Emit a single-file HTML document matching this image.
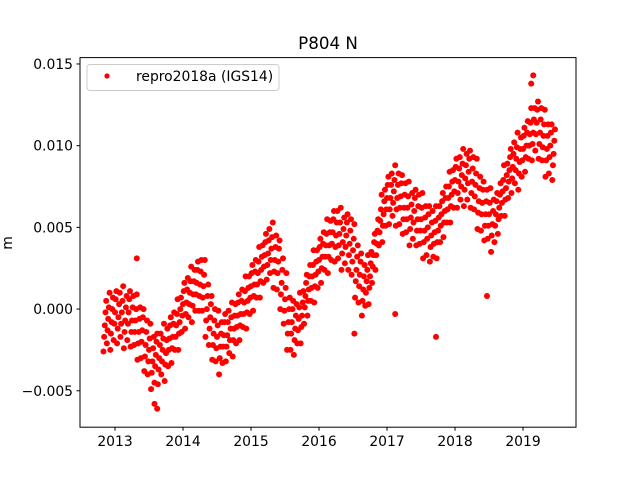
<!DOCTYPE html>
<html><head><meta charset="utf-8"><style>
body{margin:0;background:#fff}
svg{display:block;font-family:"DejaVu Sans","Liberation Sans",sans-serif}
</style></head><body>
<svg id="chart" width="640" height="480">
<rect width="640" height="480" fill="#fff"/>
<text x="328" y="49" font-size="16.7" text-anchor="middle">P804 N</text>
<text transform="translate(12,243) rotate(-90)" font-size="13.9" text-anchor="middle">m</text>
<g id="points"></g>
<rect x="80" y="57.6" width="496" height="369.6" fill="none" stroke="#000" stroke-width="1"/>
<g id="xticks"></g>
<g id="yticks"></g>
<g>
<rect x="87" y="64.5" width="192" height="26" rx="3" fill="#fff" fill-opacity="0.8" stroke="#ccc"/>
<circle cx="107" cy="76" r="2.6" fill="#f00"/>
<text x="136" y="81" font-size="13.9">repro2018a (IGS14)</text>
</g>
</svg>
<script>
const times = [2012.85,2012.90,2012.95,2013.00,2013.05,2013.10,2013.15,2013.20,2013.25,2013.30,2013.35,2013.40,2013.45,2013.50,2013.55,2013.60,2013.65,2013.70,2013.75,2013.80,2013.85,2013.90,2013.95,2014.00,2014.05,2014.10,2014.15,2014.20,2014.25,2014.30,2014.35,2014.40,2014.45,2014.50,2014.55,2014.60,2014.65,2014.70,2014.75,2014.80,2014.85,2014.90,2014.95,2015.00,2015.05,2015.10,2015.15,2015.20,2015.25,2015.30,2015.35,2015.40,2015.45,2015.50,2015.55,2015.60,2015.65,2015.70,2015.75,2015.80,2015.85,2015.90,2015.95,2016.00,2016.05,2016.10,2016.15,2016.20,2016.25,2016.30,2016.35,2016.40,2016.45,2016.50,2016.55,2016.60,2016.65,2016.70,2016.75,2016.80,2016.85,2016.90,2016.95,2017.00,2017.05,2017.10,2017.15,2017.20,2017.25,2017.30,2017.35,2017.40,2017.45,2017.50,2017.55,2017.60,2017.65,2017.70,2017.75,2017.80,2017.85,2017.90,2017.95,2018.00,2018.05,2018.10,2018.15,2018.20,2018.25,2018.30,2018.35,2018.40,2018.45,2018.50,2018.55,2018.60,2018.65,2018.70,2018.75,2018.80,2018.85,2018.90,2018.95,2019.00,2019.05,2019.10,2019.15,2019.20,2019.25,2019.30,2019.35,2019.40,2019.45];
// values in units of 1e-4 m, five daily samples per time bin
const values = [
[-26,-17,-10,-2,5],[-21,-13,-6,1,10],[-25,-15,-8,0,7],[-19,-9,-2,6,11],[-21,-12,-5,3,10],[-17,-9,-2,5,14],[-24,-14,-7,1,8],[-19,-9,-2,6,11],[-23,-14,-7,1,8],[-22,-14,-7,0,9],
[-31,-21,-14,-6,1],[-30,-20,-13,-5,0],[-38,-29,-22,-14,-7],[-40,-32,-25,-18,-9],[-49,-39,-32,-24,-17],[-45,-35,-28,-20,-15],[-46,-37,-30,-22,-15],[-40,-32,-25,-18,-9],[-44,-34,-27,-19,-12],[-35,-25,-18,-10,-5],
[-33,-24,-17,-9,-2],[-25,-17,-10,-3,6],[-25,-15,-8,0,7],[-14,-4,3,11,16],[-12,-3,4,12,19],[-5,3,10,17,26],[-8,2,9,17,24],[-1,9,16,24,29],[-1,8,15,23,30],[-1,7,14,21,30],
[-17,-7,0,8,15],[-22,-12,-5,3,8],[-31,-22,-15,-7,0],[-32,-24,-17,-10,-1],[-40,-30,-23,-15,-8],[-33,-23,-16,-8,-3],[-32,-23,-16,-8,-1],[-27,-19,-12,-5,4],[-29,-19,-12,-4,3],[-21,-11,-4,4,9],
[-19,-10,-3,5,12],[-11,-3,4,11,20],[-12,-2,5,13,20],[-3,7,14,22,27],[-1,8,15,23,30],[7,15,22,29,38],[7,17,24,32,39],[16,26,33,41,46],[18,27,34,42,49],[22,30,37,44,53],
[13,23,30,38,45],[12,22,29,37,42],[0,9,16,24,31],[-9,-1,6,13,22],[-25,-15,-8,0,7],[-25,-15,-8,0,5],[-28,-19,-12,-4,3],[-21,-13,-6,1,10],[-21,-11,-4,4,11],[-9,1,8,16,21],
[-4,5,12,20,27],[5,13,20,27,36],[4,14,21,29,36],[13,23,30,38,43],[16,25,32,40,47],[24,32,39,46,55],[22,32,39,47,54],[30,40,47,55,60],[29,38,45,53,60],[31,39,46,53,62],
[24,34,41,49,56],[28,38,45,53,58],[24,33,40,48,55],[21,29,36,43,52],[7,17,24,32,39],[4,14,21,29,34],[-4,5,12,20,27],[2,10,17,24,33],[3,13,20,28,35],[16,26,33,41,46],
[24,33,40,48,55],[39,47,54,61,70],[41,51,58,66,73],[51,61,68,76,81],[52,61,68,76,83],[57,65,72,79,88],[51,61,68,76,83],[52,62,69,77,82],[46,55,62,70,77],[47,55,62,69,78],
[39,49,56,64,71],[43,53,60,68,73],[39,48,55,63,70],[40,48,55,62,71],[31,41,48,56,63],[33,43,50,58,63],[29,38,45,53,60],[32,40,47,54,63],[31,41,48,56,63],[41,51,58,66,71],
[44,53,60,68,75],[53,61,68,75,84],[53,63,70,78,85],[62,72,79,87,92],[62,71,78,86,93],[67,75,82,89,98],[63,73,80,88,95],[67,77,84,92,97],[62,71,78,86,93],[61,69,76,83,92],
[49,59,66,74,81],[48,58,65,73,78],[42,51,58,66,73],[43,51,58,65,74],[35,45,52,60,67],[41,51,58,66,71],[46,55,62,70,77],[57,65,72,79,88],[57,67,74,82,89],[68,78,85,93,98],
[71,80,87,95,102],[77,85,92,99,108],[73,83,90,98,105],[81,91,98,106,111],[84,93,100,108,115],[92,100,107,114,123],[91,101,108,116,123],[97,107,114,122,127],[92,101,108,116,123],[91,99,106,113,122],
[81,91,98,106,113],[83,93,100,108,113],[79,88,95,103,110]];
const outlierTimes = [2013.32,2013.62,2013.58,2018.47,2019.15,2019.12,2017.12,2017.72,2016.52];
const outlierValues = [31,-61,-58,8,143,138,-3,-17,-15];
const xTicks = [2013,2014,2015,2016,2017,2018,2019];
const yTicks = [-0.005,0.0,0.005,0.010,0.015];
const yTickLabels = ["\u22120.005","0.000","0.005","0.010","0.015"];

const X0=80,X1=576,Y0=427.2,Y1=57.6;
const xMin=2012.485,xMax=2019.779,yMin=-0.00723,yMax=0.01539;
const xs=t=>X0+(t-xMin)/(xMax-xMin)*(X1-X0);
const ys=v=>Y0-(v-yMin)/(yMax-yMin)*(Y0-Y1);
const NS="http://www.w3.org/2000/svg";
const pg=document.getElementById('points');
function dot(t,v){
  const c=document.createElementNS(NS,'circle');
  c.setAttribute('cx',xs(t).toFixed(2));c.setAttribute('cy',ys(v).toFixed(2));
  c.setAttribute('r','3.0');c.setAttribute('fill','#f00');
  
  
  pg.appendChild(c);
}
times.forEach((t,i)=>values[i].forEach((v,k)=>dot(t+(k-2)*0.01,v*1e-4)));
outlierTimes.forEach((t,i)=>dot(t,outlierValues[i]*1e-4));

const xg=document.getElementById('xticks');
xTicks.forEach(t=>{
  const x=xs(t);
  const l=document.createElementNS(NS,'line');
  l.setAttribute('x1',x);l.setAttribute('x2',x);l.setAttribute('y1',Y0);l.setAttribute('y2',Y0+3.5);l.setAttribute('stroke','#000');
  
  
  xg.appendChild(l);
  const tx=document.createElementNS(NS,'text');
  tx.setAttribute('x',x);tx.setAttribute('y',Y0+19);tx.setAttribute('font-size','13.9');tx.setAttribute('text-anchor','middle');
  tx.textContent=t;
  
  
  xg.appendChild(tx);
});
const yg=document.getElementById('yticks');
yTicks.forEach((v,i)=>{
  const y=ys(v);
  const l=document.createElementNS(NS,'line');
  l.setAttribute('x1',X0-3.5);l.setAttribute('x2',X0);l.setAttribute('y1',y);l.setAttribute('y2',y);l.setAttribute('stroke','#000');
  
  
  yg.appendChild(l);
  const tx=document.createElementNS(NS,'text');
  tx.setAttribute('x',X0-7);tx.setAttribute('y',y+5);tx.setAttribute('font-size','13.9');tx.setAttribute('text-anchor','end');
  tx.textContent=yTickLabels[i];
  
  
  yg.appendChild(tx);
});
</script>
</body></html>
